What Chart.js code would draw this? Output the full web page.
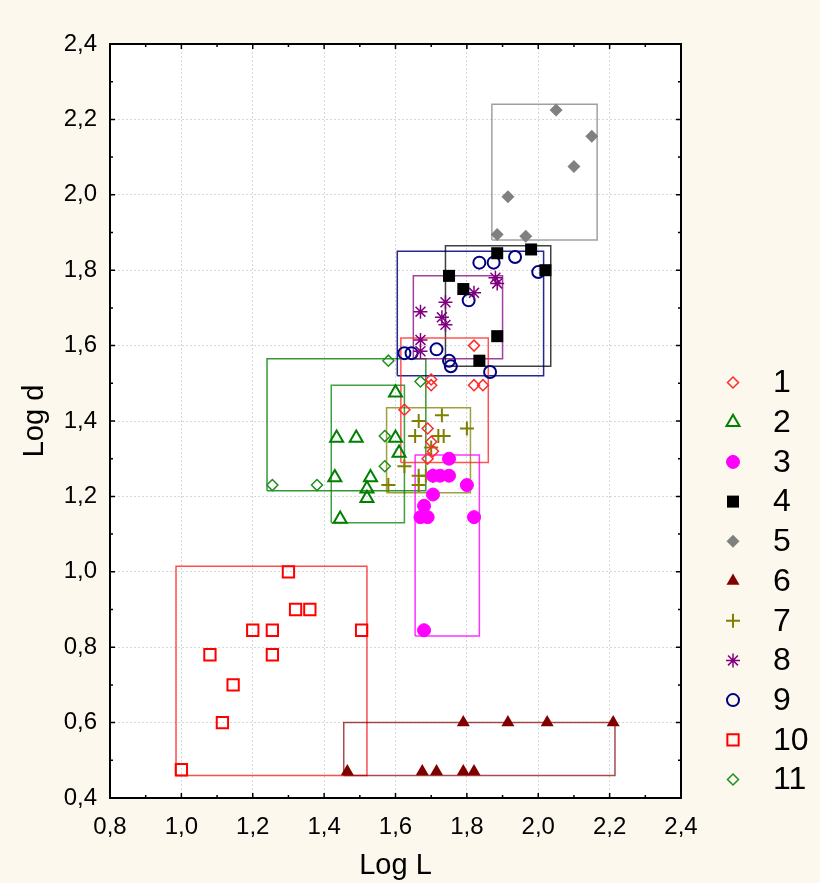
<!DOCTYPE html>
<html>
<head>
<meta charset="utf-8">
<script src="https://cdn.jsdelivr.net/npm/chart.js@4.4.1/dist/chart.umd.min.js"></script>
<style>
  html, body { margin: 0; padding: 0; background: #fdf8ee; }
  #grafico { display: block; }
</style>
</head>
<body>
<canvas id="grafico" width="820" height="883"></canvas>
<script>
        // Marcas dos eixos
        const marcasX = [0.8, 1.0, 1.2, 1.4, 1.6, 1.8, 2.0, 2.2, 2.4];
        const marcasY = [0.4, 0.6, 0.8, 1.0, 1.2, 1.4, 1.6, 1.8, 2.0, 2.2, 2.4];
        const rotulos = ['1', '2', '3', '4', '5', '6', '7', '8', '9', '10', '11'];

        // Grupo 1
        const logL1 = [1.82, 1.70, 1.70, 1.82, 1.845, 1.625, 1.69, 1.70, 1.705, 1.69];
        const logD1 = [1.60, 1.51, 1.495, 1.495, 1.495, 1.43, 1.38, 1.345, 1.32, 1.30];
        const faixa1 = [1.615, 1.86, 1.29, 1.62];

        // Grupo 2
        const logL2 = [1.60, 1.435, 1.49, 1.60, 1.61, 1.43, 1.53, 1.52, 1.52, 1.445];
        const logD2 = [1.475, 1.355, 1.355, 1.355, 1.315, 1.25, 1.25, 1.22, 1.195, 1.14];
        const faixa2 = [1.42, 1.625, 1.13, 1.495];

        // Grupo 3
        const logL3 = [1.75, 1.705, 1.725, 1.75, 1.80, 1.705, 1.68, 1.67, 1.69, 1.82, 1.68];
        const logD3 = [1.30, 1.255, 1.255, 1.255, 1.23, 1.205, 1.175, 1.145, 1.145, 1.145, 0.845];
        const faixa3 = [1.655, 1.835, 0.83, 1.31];

        // Grupo 4
        const logL4 = [1.885, 1.98, 2.02, 1.75, 1.79, 1.885, 1.835];
        const logD4 = [1.845, 1.855, 1.80, 1.785, 1.75, 1.625, 1.56];
        const faixa4 = [1.74, 2.035, 1.545, 1.865];

        // Grupo 5
        const logL5 = [2.05, 2.15, 2.10, 1.915, 1.885, 1.965];
        const logD5 = [2.225, 2.155, 2.075, 1.995, 1.895, 1.89];
        const faixa5 = [1.87, 2.165, 1.88, 2.24];

        // Grupo 6
        const logL6 = [1.79, 1.915, 2.025, 2.21, 1.465, 1.675, 1.715, 1.79, 1.82];
        const logD6 = [0.60, 0.60, 0.60, 0.60, 0.47, 0.47, 0.47, 0.47, 0.47];
        const faixa6 = [1.455, 2.215, 0.46, 0.60];

        // Grupo 7
        const logL7 = [1.73, 1.665, 1.80, 1.655, 1.72, 1.735, 1.70, 1.625, 1.58, 1.665, 1.665, 1.685, 1.705];
        const logD7 = [1.415, 1.40, 1.38, 1.36, 1.36, 1.36, 1.33, 1.28, 1.23, 1.255, 1.23, 1.255, 1.255];
        const faixa7 = [1.575, 1.81, 1.21, 1.435];

        // Grupo 8
        const logL8 = [1.88, 1.885, 1.82, 1.74, 1.67, 1.73, 1.74, 1.67, 1.67];
        const logD8 = [1.78, 1.765, 1.74, 1.715, 1.69, 1.675, 1.655, 1.615, 1.585];
        const faixa8 = [1.65, 1.90, 1.565, 1.785];

        // Grupo 9
        const logL9 = [1.835, 1.875, 1.935, 2.00, 1.805, 1.715, 1.625, 1.645, 1.75, 1.755, 1.865];
        const logD9 = [1.82, 1.82, 1.835, 1.795, 1.72, 1.59, 1.58, 1.58, 1.56, 1.545, 1.53];
        const faixa9 = [1.605, 2.015, 1.52, 1.85];

        // Grupo 10
        const logL10 = [1.30, 1.32, 1.36, 1.20, 1.255, 1.505, 1.08, 1.255, 1.145, 1.115, 1.00];
        const logD10 = [1.00, 0.90, 0.90, 0.845, 0.845, 0.845, 0.78, 0.78, 0.70, 0.60, 0.475];
        const faixa10 = [0.985, 1.52, 0.46, 1.015];

        // Grupo 11
        const logL11 = [1.58, 1.67, 1.57, 1.57, 1.255, 1.38];
        const logD11 = [1.56, 1.505, 1.36, 1.28, 1.23, 1.23];
        const faixa11 = [1.24, 1.685, 1.215, 1.565];

        const todosL = [logL1, logL2, logL3, logL4, logL5, logL6, logL7, logL8, logL9, logL10, logL11];
        const todosD = [logD1, logD2, logD3, logD4, logD5, logD6, logD7, logD8, logD9, logD10, logD11];
        const todasFaixas = [faixa1, faixa2, faixa3, faixa4, faixa5, faixa6, faixa7, faixa8, faixa9, faixa10, faixa11];

        // Estilo de cada grupo (marcador e cor do retangulo)
        const vazio = 'rgba(0,0,0,0)';
        const estilos = [
            { forma: 'rectRot', raio: 5.5, fundo: vazio, borda: '#ff2a2a', largura: 1.5, caixa: 'rgba(255,40,40,0.8)' },
            { forma: 'triangle', raio: 7.5, fundo: vazio, borda: '#008000', largura: 2, caixa: 'rgba(0,128,0,0.75)' },
            { forma: 'circle', raio: 6.5, fundo: '#ff00ff', borda: '#ff00ff', largura: 1, caixa: 'rgba(255,0,255,0.8)' },
            { forma: 'rect', raio: 8.5, fundo: '#000000', borda: '#000000', largura: 0, caixa: 'rgba(0,0,0,0.75)' },
            { forma: 'rectRot', raio: 6.5, fundo: '#808080', borda: '#808080', largura: 0, caixa: 'rgba(128,128,128,0.75)' },
            { forma: 'triangle', raio: 7.5, fundo: '#800000', borda: '#800000', largura: 0, caixa: 'rgba(128,0,0,0.7)' },
            { forma: 'cross', raio: 7, fundo: vazio, borda: '#808000', largura: 2, caixa: 'rgba(128,128,0,0.75)' },
            { forma: 'star', raio: 7, fundo: vazio, borda: '#800080', largura: 1.5, caixa: 'rgba(128,0,128,0.75)' },
            { forma: 'circle', raio: 6, fundo: vazio, borda: '#000080', largura: 2, caixa: 'rgba(0,0,128,0.85)' },
            { forma: 'rect', raio: 8, fundo: vazio, borda: '#ff0000', largura: 2, caixa: 'rgba(255,0,0,0.7)' },
            { forma: 'rectRot', raio: 5.5, fundo: vazio, borda: '#1f8f1f', largura: 1.5, caixa: 'rgba(0,128,0,0.8)' }
        ];

        const fonte = "'Liberation Sans', Arial, sans-serif";
        const formatar = v => v.toFixed(1).replace('.', ',');

        // Montar datasets: pontos e retangulos de cada grupo
        const conjuntos = [];
        rotulos.forEach((rotulo, i) => {
            const e = estilos[i];
            conjuntos.push({
                label: rotulo,
                data: todosL[i].map((x, k) => ({ x: x, y: todosD[i][k] })),
                pointStyle: e.forma,
                pointRadius: e.raio,
                pointHoverRadius: e.raio,
                backgroundColor: e.fundo,
                borderColor: e.borda,
                borderWidth: e.largura,
                order: 0
            });
        });
        todasFaixas.forEach((f, i) => {
            conjuntos.push({
                label: 'faixa ' + rotulos[i],
                data: [
                    { x: f[0], y: f[2] }, { x: f[1], y: f[2] },
                    { x: f[1], y: f[3] }, { x: f[0], y: f[3] },
                    { x: f[0], y: f[2] }
                ],
                showLine: true,
                pointRadius: 0,
                borderColor: estilos[i].caixa,
                borderWidth: 1.5,
                borderJoinStyle: 'miter',
                fill: false,
                order: 1
            });
        });

        // Fundo creme e area do grafico branca
        const fundoPlugin = {
            id: 'fundo',
            beforeDraw(chart) {
                const { ctx, chartArea: a } = chart;
                ctx.save();
                ctx.fillStyle = '#fdf8ee';
                ctx.fillRect(0, 0, chart.width, chart.height);
                ctx.fillStyle = '#ffffff';
                ctx.fillRect(a.left, a.top, a.right - a.left, a.bottom - a.top);
                ctx.restore();
            }
        };

        // Moldura com tracinhos voltados para dentro
        const molduraPlugin = {
            id: 'moldura',
            afterDraw(chart) {
                const { ctx, chartArea: a } = chart;
                const sx = chart.scales.x, sy = chart.scales.y;
                ctx.save();
                ctx.strokeStyle = '#000';
                ctx.lineWidth = 1.5;
                const tracos = (marcas, desenhar) => {
                    marcas.forEach((v, k) => {
                        desenhar(v, 5);
                        if (k < marcas.length - 1) desenhar((v + marcas[k + 1]) / 2, 3);
                    });
                };
                ctx.beginPath();
                tracos(marcasX, (v, t) => {
                    const px = sx.getPixelForValue(v);
                    ctx.moveTo(px, a.bottom); ctx.lineTo(px, a.bottom - t);
                    ctx.moveTo(px, a.top); ctx.lineTo(px, a.top + t);
                });
                tracos(marcasY, (v, t) => {
                    const py = sy.getPixelForValue(v);
                    ctx.moveTo(a.left, py); ctx.lineTo(a.left + t, py);
                    ctx.moveTo(a.right, py); ctx.lineTo(a.right - t, py);
                });
                ctx.stroke();
                ctx.lineWidth = 2;
                ctx.strokeRect(a.left, a.top, a.right - a.left, a.bottom - a.top);
                ctx.restore();
            }
        };

        // Legenda lateral com os marcadores dos grupos
        const legendaPlugin = {
            id: 'legendaLateral',
            afterDraw(chart) {
                const ctx = chart.ctx;
                ctx.save();
                rotulos.forEach((rotulo, i) => {
                    const e = estilos[i];
                    const y = 382.5 + i * 39.7;
                    ctx.fillStyle = e.fundo;
                    ctx.strokeStyle = e.borda;
                    ctx.lineWidth = e.largura;
                    Chart.helpers.drawPoint(ctx, {
                        pointStyle: e.forma, radius: e.raio, rotation: 0, borderWidth: e.largura
                    }, 733, y);
                    ctx.fillStyle = '#000';
                    ctx.font = '32px ' + fonte;
                    ctx.textAlign = 'left';
                    ctx.textBaseline = 'middle';
                    ctx.fillText(rotulo, 773, y + 1);
                });
                ctx.restore();
            }
        };

        new Chart(document.getElementById('grafico'), {
            type: 'scatter',
            data: { datasets: conjuntos },
            options: {
                responsive: false,
                animation: false,
                layout: { padding: { top: 44, right: 139, left: 0, bottom: 0 } },
                plugins: {
                    legend: { display: false },
                    tooltip: { enabled: false }
                },
                scales: {
                    x: {
                        type: 'linear',
                        min: 0.8,
                        max: 2.4,
                        afterBuildTicks: s => { s.ticks = marcasX.map(v => ({ value: v })); },
                        afterFit: s => { s.height = 85; },
                        grid: { color: '#d8d8d8', lineWidth: 1, drawTicks: false },
                        border: { display: false, dash: [2, 2] },
                        ticks: {
                            padding: 15,
                            color: '#000',
                            font: { family: fonte, size: 24 },
                            callback: v => formatar(v)
                        },
                        title: {
                            display: true,
                            text: 'Log L',
                            color: '#000',
                            font: { family: fonte, size: 29 },
                            padding: { top: 0, bottom: 0 }
                        }
                    },
                    y: {
                        type: 'linear',
                        min: 0.4,
                        max: 2.4,
                        afterBuildTicks: s => { s.ticks = marcasY.map(v => ({ value: v })); },
                        afterFit: s => { s.width = 110; },
                        grid: { color: '#d8d8d8', lineWidth: 1, drawTicks: false },
                        border: { display: false, dash: [2, 2] },
                        ticks: {
                            padding: 13,
                            color: '#000',
                            font: { family: fonte, size: 24 },
                            callback: v => formatar(v)
                        },
                        title: {
                            display: true,
                            text: 'Log d',
                            color: '#000',
                            font: { family: fonte, size: 29 },
                            padding: { top: 18, bottom: 0 }
                        }
                    }
                }
            },
            plugins: [fundoPlugin, molduraPlugin, legendaPlugin]
        });
</script>
</body>
</html>
